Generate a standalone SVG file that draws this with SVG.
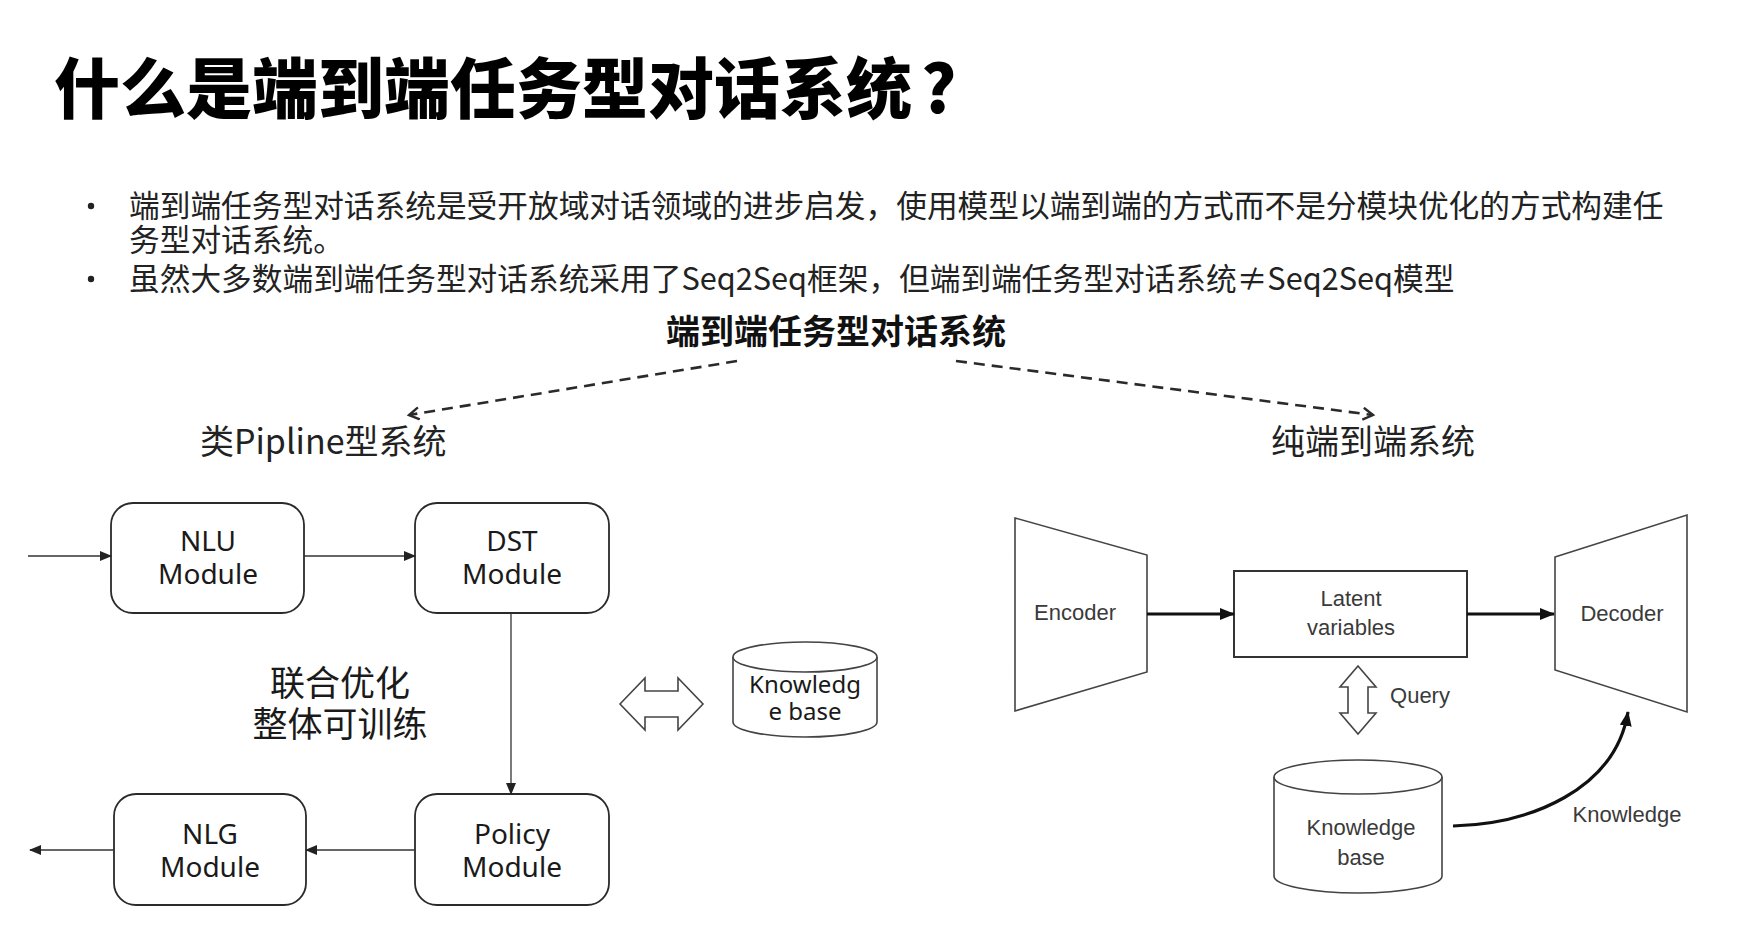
<svg xmlns="http://www.w3.org/2000/svg" width="1764" height="930" viewBox="0 0 1764 930">
  <style>
    .cjk { font-family: "Noto Sans CJK SC", "Noto Sans", sans-serif; fill: #1a1a1a; }
    .title { font-size: 66px; font-weight: 900; fill: #000; }
    .body { font-size: 30.7px; fill: #222; }
    .head { font-size: 34px; font-weight: 700; fill: #111; }
    .sub { font-size: 34px; fill: #222; }
    .lbl { font-family: "Noto Sans", "Open Sans", sans-serif; font-size: 28px; fill: #1a1a1a; text-anchor: middle; }
    .kb1 { font-family: "Noto Sans", "Open Sans", sans-serif; font-size: 24px; fill: #1a1a1a; text-anchor: middle; }
    .ar { font-family: "Liberation Sans", Arial, sans-serif; font-size: 22px; fill: #3a3a3a; text-anchor: middle; }
    .box { fill: #fff; stroke: #2a2a2a; stroke-width: 1.8; }
    .thin { fill: none; stroke: #333; stroke-width: 1.3; }
    .bold { fill: none; stroke: #111; stroke-width: 3.2; }
    .dash { fill: none; stroke: #2a2a2a; stroke-width: 2.6; stroke-dasharray: 11 7; }
    .shape { fill: #fff; stroke: #444; stroke-width: 1.6; }
  </style>
  <defs>
    <marker id="tri" markerUnits="userSpaceOnUse" markerWidth="12" markerHeight="10" refX="11" refY="5" orient="auto">
      <path d="M0,0 L12,5 L0,10 z" fill="#222"/>
    </marker>
    <marker id="triBold" markerUnits="userSpaceOnUse" markerWidth="15" markerHeight="12" refX="14" refY="6" orient="auto">
      <path d="M0,0 L15,6 L0,12 z" fill="#111"/>
    </marker>
    <marker id="open" markerUnits="userSpaceOnUse" markerWidth="14" markerHeight="14" refX="11" refY="7" orient="auto">
      <path d="M1,1 L11,7 L1,13" fill="none" stroke="#2a2a2a" stroke-width="2.4"/>
    </marker>
  </defs>

  <rect width="1764" height="930" fill="#fff"/>

  <!-- heading and bullet text -->
  <g id="heading">
    <text class="cjk title" x="54" y="113">什么是端到端任务型对话系统</text>
    <text class="cjk title" x="921" y="113">?</text>
  </g>
  <g id="bullets">
    <circle cx="91" cy="206" r="3.2" fill="#222"/>
    <text class="cjk body" x="129" y="217">端到端任务型对话系统是受开放域对话领域的进步启发，使用模型以端到端的方式而不是分模块优化的方式构建任</text>
    <text class="cjk body" x="129" y="251">务型对话系统。</text>
    <circle cx="91" cy="279" r="3.2" fill="#222"/>
    <text class="cjk body" x="129" y="290">虽然大多数端到端任务型对话系统采用了Seq2Seq框架，但端到端任务型对话系统≠Seq2Seq模型</text>
  </g>

  <g id="root">
    <text class="cjk head" x="666" y="344">端到端任务型对话系统</text>
  </g>
  <g id="pipeline-title">
    <text class="cjk sub" x="200" y="454">类Pipline型系统</text>
  </g>
  <g id="e2e-title">
    <text class="cjk sub" x="1271" y="454">纯端到端系统</text>
  </g>

  <!-- pipeline-style system -->
  <g id="nlu">
    <rect class="box" x="111" y="503" width="193" height="110" rx="22"/>
    <text class="lbl" x="208" y="551">NLU</text>
    <text class="lbl" x="208" y="584">Module</text>
  </g>
  <g id="dst">
    <rect class="box" x="415" y="503" width="194" height="110" rx="22"/>
    <text class="lbl" x="512" y="551">DST</text>
    <text class="lbl" x="512" y="584">Module</text>
  </g>
  <g id="policy">
    <rect class="box" x="415" y="794" width="194" height="111" rx="22"/>
    <text class="lbl" x="512" y="844">Policy</text>
    <text class="lbl" x="512" y="877">Module</text>
  </g>
  <g id="nlg">
    <rect class="box" x="114" y="794" width="192" height="111" rx="22"/>
    <text class="lbl" x="210" y="844">NLG</text>
    <text class="lbl" x="210" y="877">Module</text>
  </g>
  <g id="joint-note">
    <text class="cjk" x="340" y="696" font-size="35" text-anchor="middle" fill="#1a1a1a">联合优化</text>
    <text class="cjk" x="340" y="737" font-size="35" text-anchor="middle" fill="#1a1a1a">整体可训练</text>
  </g>
  <g id="kb-left">
    <path class="shape" d="M733,657 L733,722 A72,15 0 0 0 877,722 L877,657" stroke="#222"/>
    <ellipse class="shape" cx="805" cy="657" rx="72" ry="15" stroke="#222"/>
    <text class="kb1" x="805" y="693">Knowledg</text>
    <text class="kb1" x="805" y="720">e base</text>
  </g>

  <!-- fully end-to-end system -->
  <g id="encoder">
    <polygon class="shape" points="1015,518 1147,555 1147,672 1015,711"/>
    <text class="ar" x="1075" y="620">Encoder</text>
  </g>
  <g id="latent">
    <rect x="1234" y="571" width="233" height="86" fill="#fff" stroke="#333" stroke-width="2"/>
    <text class="ar" x="1351" y="606">Latent</text>
    <text class="ar" x="1351" y="635">variables</text>
  </g>
  <g id="decoder">
    <polygon class="shape" points="1555,557 1687,515 1687,712 1555,670"/>
    <text class="ar" x="1622" y="621">Decoder</text>
  </g>
  <g id="kb-right">
    <path class="shape" d="M1274,777 L1274,876 A84,17 0 0 0 1442,876 L1442,777"/>
    <ellipse class="shape" cx="1358" cy="777" rx="84" ry="17"/>
    <text class="ar" x="1361" y="835">Knowledge</text>
    <text class="ar" x="1361" y="865">base</text>
  </g>

  <g id="connectors">
    <!-- dashed branches -->
    <line class="dash" x1="737" y1="361" x2="409" y2="415" marker-end="url(#open)"/>
    <line class="dash" x1="956" y1="361" x2="1373" y2="415" marker-end="url(#open)"/>
    <!-- pipeline flow -->
    <line class="thin" x1="28" y1="556" x2="111" y2="556" marker-end="url(#tri)"/>
    <line class="thin" x1="304" y1="556" x2="415" y2="556" marker-end="url(#tri)"/>
    <line class="thin" x1="511" y1="613" x2="511" y2="794" marker-end="url(#tri)"/>
    <line class="thin" x1="415" y1="850" x2="306" y2="850" stroke="#888" marker-end="url(#tri)"/>
    <line class="thin" x1="114" y1="850" x2="30" y2="850" stroke="#888" marker-end="url(#tri)"/>
    <!-- hollow exchange arrow -->
    <polygon class="shape" stroke="#333" points="620,704 645,678 645,691 678,691 678,678 703,704 678,730 678,717 645,717 645,730"/>
    <!-- encoder / decoder flow -->
    <line class="bold" x1="1147" y1="614" x2="1234" y2="614" marker-end="url(#triBold)"/>
    <line class="bold" x1="1467" y1="614" x2="1554" y2="614" marker-end="url(#triBold)"/>
    <!-- query arrow -->
    <polygon class="shape" points="1358,666 1376,687 1368,687 1368,713 1376,713 1358,734 1340,713 1348,713 1348,687 1340,687"/>
    <text class="ar" x="1420" y="703">Query</text>
    <!-- knowledge to decoder -->
    <path class="bold" d="M1453,826 C1530,824 1615,790 1628,712" marker-end="url(#triBold)"/>
    <text class="ar" x="1627" y="822">Knowledge</text>
  </g>
</svg>
